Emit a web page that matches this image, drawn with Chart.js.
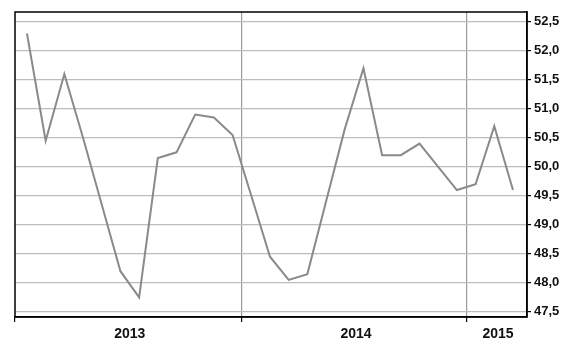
<!DOCTYPE html>
<html>
<head>
<meta charset="utf-8">
<script src="https://cdn.jsdelivr.net/npm/chart.js@4"></script>
<style>
  html, body { margin: 0; padding: 0; background: #fff; }
  canvas { display: block; }
</style>
</head>
<body>
<canvas id="chart" width="570" height="338"></canvas>
<script>
// Monthly values, Jan 2013 - Mar 2015
const months = [
  "2013-01", "2013-02", "2013-03", "2013-04", "2013-05", "2013-06",
  "2013-07", "2013-08", "2013-09", "2013-10", "2013-11", "2013-12",
  "2014-01", "2014-02", "2014-03", "2014-04", "2014-05", "2014-06",
  "2014-07", "2014-08", "2014-09", "2014-10", "2014-11", "2014-12",
  "2015-01", "2015-02", "2015-03"
];
const values = [
  52.3, 50.45, 51.6, 50.5, 49.35, 48.2, 47.75, 50.15, 50.25, 50.9, 50.85, 50.55,
  49.5, 48.45, 48.05, 48.15, 49.4, 50.65, 51.7, 50.2, 50.2, 50.4, 50.0, 49.6,
  49.7, 50.7, 49.6
];
const yTicks = [47.5, 48.0, 48.5, 49.0, 49.5, 50.0, 50.5, 51.0, 51.5, 52.0, 52.5];
const yearLabels = ["2013", "2014", "2015"];
const yearCenters = [5.5, 17.6, 25.2];   // label positions (month index)
const yearBounds = [11.5, 23.5];         // year separators

const X_MIN = -0.64, X_MAX = 26.75;

// Frame around the plot area
const framePlugin = {
  id: "frame",
  afterDraw(chart) {
    const { ctx, chartArea: a } = chart;
    ctx.save();
    ctx.strokeStyle = "#000";
    ctx.lineWidth = 1.5;
    ctx.strokeRect(a.left, a.top, a.right - a.left, a.bottom - a.top);
    ctx.restore();
  }
};

const isBound = v => yearBounds.some(b => Math.abs(b - v) < 1e-6);

new Chart(document.getElementById("chart").getContext("2d"), {
  type: "line",
  data: {
    datasets: [{
      data: values.map((v, i) => ({ x: i, y: v })),
      borderColor: "#8a8a8a",
      borderWidth: 2,
      pointRadius: 0,
      tension: 0,
      fill: false
    }]
  },
  options: {
    responsive: false,
    animation: false,
    devicePixelRatio: 1,
    layout: { padding: { left: 15, top: 12, right: 0, bottom: 0 } },
    plugins: {
      legend: { display: false },
      tooltip: { enabled: false }
    },
    scales: {
      x: {
        type: "linear",
        min: X_MIN,
        max: X_MAX,
        afterBuildTicks: scale => {
          const t = [X_MIN, ...yearBounds, ...yearCenters].sort((a, b) => a - b);
          scale.ticks = t.map(v => ({ value: v }));
        },
        afterFit: scale => { scale.height = 21; },
        ticks: {
          autoSkip: false,
          maxRotation: 0,
          padding: 4,
          color: "#111",
          font: { family: "Liberation Sans, Arial, sans-serif", size: 14, weight: "bold" },
          callback: v => {
            const i = yearCenters.indexOf(v);
            return i >= 0 ? yearLabels[i] : "";
          }
        },
        grid: {
          color: c => (c.tick && isBound(c.tick.value)) ? "#9a9a9a" : "rgba(0,0,0,0)",
          lineWidth: 1.2,
          tickLength: 5,
          tickColor: c => (c.tick && (isBound(c.tick.value) || c.tick.value === X_MIN)) ? "#000" : "rgba(0,0,0,0)"
        },
        border: { color: "#000", width: 1.5 }
      },
      y: {
        position: "right",
        min: 47.41,
        max: 52.67,
        afterBuildTicks: scale => { scale.ticks = yTicks.map(v => ({ value: v })); },
        afterFit: scale => { scale.width = 43; },
        ticks: {
          padding: 3,
          color: "#111",
          font: { family: "Liberation Sans, Arial, sans-serif", size: 13, weight: "bold" },
          callback: v => v.toFixed(1).replace(".", ",")
        },
        grid: {
          color: "#bdbdbd",
          lineWidth: 1.2,
          tickLength: 4,
          tickColor: "#000"
        },
        border: { color: "#000", width: 1.5 }
      }
    }
  },
  plugins: [framePlugin]
});
</script>
</body>
</html>
